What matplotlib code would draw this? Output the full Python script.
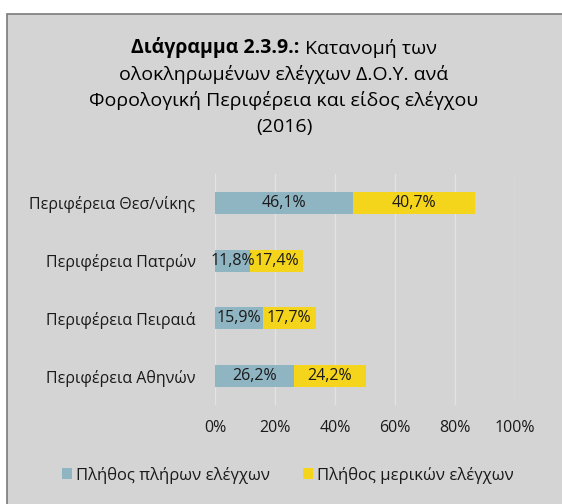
import matplotlib
matplotlib.use("Agg")
import matplotlib.pyplot as plt
from matplotlib.patches import Rectangle

# === data ===
regions = ["Περιφέρεια Αθηνών", "Περιφέρεια Πειραιά", "Περιφέρεια Πατρών", "Περιφέρεια Θεσ/νίκης"]
full_checks = [26.2, 15.9, 11.8, 46.1]
partial_checks = [24.2, 17.7, 17.4, 40.7]
series_names = ["Πλήθος πλήρων ελέγχων", "Πλήθος μερικών ελέγχων"]
xticks = [0, 20, 40, 60, 80, 100]

bg = "#d4d4d4"
c_full = "#8fb4c2"
c_part = "#f5d41c"
txt = "#1a1a1a"
font = ["Open Sans", "DejaVu Sans"]
plt.rcParams['font.family'] = font

fig = plt.figure(figsize=(5.62, 5.04), dpi=100)
fig.patch.set_facecolor("white")
fig.patches.append(Rectangle((7 / 562, -0.01), 1.0, 1 - 14 / 504 + 0.01, transform=fig.transFigure,
                             facecolor=bg, edgecolor="#7a7a7a", linewidth=1.2, zorder=-5))

ax = fig.add_axes([215 / 562, 1 - 405 / 504, 300 / 562, 231 / 504])
ax.patch.set_alpha(0)

y = range(len(regions))
b1 = ax.barh(y, full_checks, height=0.38, color=c_full, zorder=2)
b2 = ax.barh(y, partial_checks, left=full_checks, height=0.38, color=c_part, zorder=2)

def fmt(v):
    return f"{v:.1f}%".replace(".", ",")

for i in y:
    ax.text(full_checks[i] / 2, i, fmt(full_checks[i]), ha="center", va="center", fontsize=11.5, color=txt, zorder=3)
    ax.text(full_checks[i] + partial_checks[i] / 2, i, fmt(partial_checks[i]), ha="center", va="center",
            fontsize=11.5, color=txt, zorder=3)

ax.set_xlim(0, 100)
ax.set_ylim(-0.5, 3.5)
ax.set_xticks(xticks)
ax.set_xticklabels([f"{t}%" for t in xticks], fontsize=11.5, color=txt)
ax.set_yticks(list(y))
ax.set_yticklabels(regions, fontsize=11.5, color=txt)
ax.tick_params(length=0)
ax.tick_params(axis="x", pad=11)
ax.tick_params(axis="y", pad=14)
for s in ax.spines.values():
    s.set_visible(False)
ax.grid(axis="x", color="#e3e3e3", linewidth=1, zorder=1)

# title: bold lead + regular text on the first line
tsize = 14
cx = 284
y0 = 1 - 48 / 504
tb = fig.text(0, y0, "Διάγραμμα 2.3.9.:", fontsize=tsize, fontweight="bold", ha="left", va="center", color="black")
tr = fig.text(0, y0, " Κατανομή των", fontsize=tsize, ha="left", va="center", color="black")
r = fig.canvas.get_renderer()
wb = tb.get_window_extent(r).width
wr = tr.get_window_extent(r).width
start = cx - (wb + wr) / 2
tb.set_x(start / 562)
tr.set_x((start + wb) / 562)
title_rest = ["ολοκληρωμένων ελέγχων Δ.Ο.Υ. ανά", "Φορολογική Περιφέρεια και είδος ελέγχου", "(2016)"]
for k, line in enumerate(title_rest):
    fig.text(cx / 562, 1 - (74 + 26.5 * k) / 504, line, fontsize=tsize, ha="center", va="center", color="black")

leg = fig.legend([b1, b2], series_names, loc="center", bbox_to_anchor=(288 / 562, 1 - 475 / 504), ncol=2,
                 frameon=False, fontsize=12, handlelength=0.6, handleheight=0.6, handletextpad=0.25,
                 columnspacing=2.0, labelcolor=txt)

fig.savefig("out.png", dpi=100, facecolor="white")
